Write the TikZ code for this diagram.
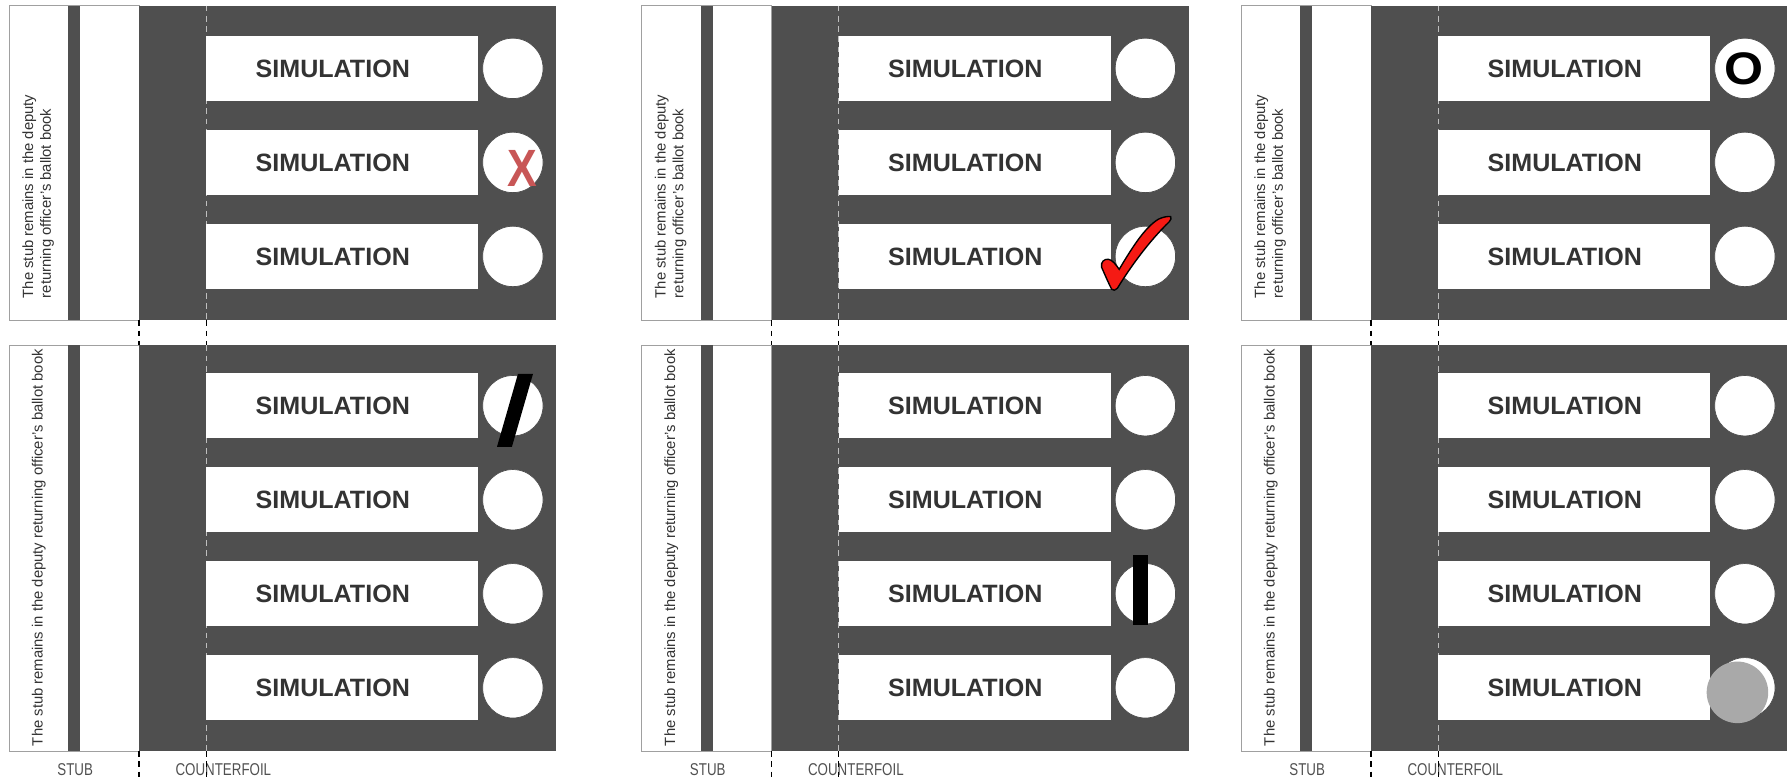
\documentclass[tikz,border=0pt]{standalone}
\usepackage{fontspec}
\setmainfont{Liberation Sans}
\usepackage{graphicx}
\definecolor{ballotdark}{HTML}{4F4F4F}
\definecolor{inktext}{HTML}{333333}
\definecolor{edgegrey}{HTML}{A0A0A0}
\definecolor{markred}{HTML}{C85656}
\definecolor{tickred}{HTML}{F51A14}
\definecolor{dotgrey}{HTML}{A9A9A9}
\definecolor{labelgrey}{HTML}{505050}
\tikzset{
  choice/.style={font=\bfseries\fontsize{11}{13}\selectfont, text=inktext, inner sep=0pt},
  hole/.style={fill=white, draw=black!70, line width=0.3pt},
  stubnote/.style={font=\fontsize{6.5}{7.75}\selectfont, text=inktext, rotate=90, anchor=west, align=left, inner sep=0pt},
  cutline/.style={line width=0.5pt, dash pattern=on 2.5pt off 2pt},
  footlabel/.style={font=\fontsize{7.5}{9}\selectfont, text=labelgrey, inner sep=0pt},
}

\begin{document}
\begin{tikzpicture}[x=0.5pt,y=-0.5pt]
  \useasboundingbox (0,0) rectangle (1568,685);
  % three copies of the ballot pair
  \foreach \o/\p in {0/a,555/b,1081/c} {
    \foreach \t/\b/\first/\n/\q in {5/281/60/3/1,303/659/356/4/2} {
      \fill[white] (\o+8,\t) rectangle (\o+122,\b);
      \draw[edgegrey,line width=0.4pt] (\o+8,\t) rectangle (\o+122,\b);
      \fill[ballotdark] (\o+60,\t) rectangle (\o+70.5,\b);
      \fill[ballotdark] (\o+122,\t) rectangle (\o+488,\b);
      \draw[cutline,white!75!black,line width=0.3pt] (\o+181,\t) -- (\o+181,\b);
      \foreach \r in {1,...,\n} {
        \pgfmathsetmacro\c{\first+82.5*(\r-1)}
        \fill[white] (\o+181,\c-28.5) rectangle (\o+419.5,\c+28.5);
        \node[choice] (name-\p\q\r) at (\o+292,\c) {SIMULATION};
        \fill[hole] (\o+450,\c) circle (26.5);
      }
    }
    \node[stubnote] (stub-\p1) at (\o+33.5,262) {The stub remains in the deputy\\returning officer’s ballot book};
    \node[stubnote] (stub-\p2) at (\o+34,655) {The stub remains in the deputy returning officer’s ballot book};
    \node[footlabel] (stub-\p) at (\o+66,675) {\scalebox{0.78}[1]{STUB}};
    \node[footlabel] (foil-\p) at (\o+196,675) {\scalebox{0.78}[1]{COUNTERFOIL}};
    \foreach \x in {122,181} {
      \draw[cutline] (\o+\x,281) -- (\o+\x,303);
      \draw[cutline] (\o+\x,659) -- (\o+\x,685);
    }
  }
  % marks in the circles
  \node[text=markred,font=\bfseries\fontsize{23}{23}\selectfont,inner sep=0pt] (mark-x) at (458,148) {\scalebox{0.85}[1]{X}};
  \filldraw[fill=tickred,draw=black,line width=0.6pt] (972.5,227.5)
    .. controls (976,228) and (979,232) .. (982,236.3)
    .. controls (993,218) and (1004,200) .. (1016.3,192.4)
    .. controls (1020,190.5) and (1025,189.5) .. (1027.2,190.1)
    .. controls (1028,191) and (1027.5,193) .. (1026,194.5)
    .. controls (1008,212) and (992,234) .. (980.4,253)
    .. controls (979,255) and (976.5,255) .. (975.4,253.8)
    .. controls (972,247) and (969,240) .. (966.6,234.5)
    .. controls (965.5,230) and (969,227) .. (972.5,227.5) -- cycle;
  \node[font=\bfseries\fontsize{20}{20}\selectfont,inner sep=0pt] (mark-o) at (1530,60.5) {\scalebox{1.1}[1]{O}};
  \fill (454.5,328) -- (467.7,328) -- (449.2,392) -- (436.1,392) -- cycle;
  \fill (994,487) rectangle (1007,548);
  \fill[dotgrey] (1524.5,607.5) circle (27);
\end{tikzpicture}
\end{document}
